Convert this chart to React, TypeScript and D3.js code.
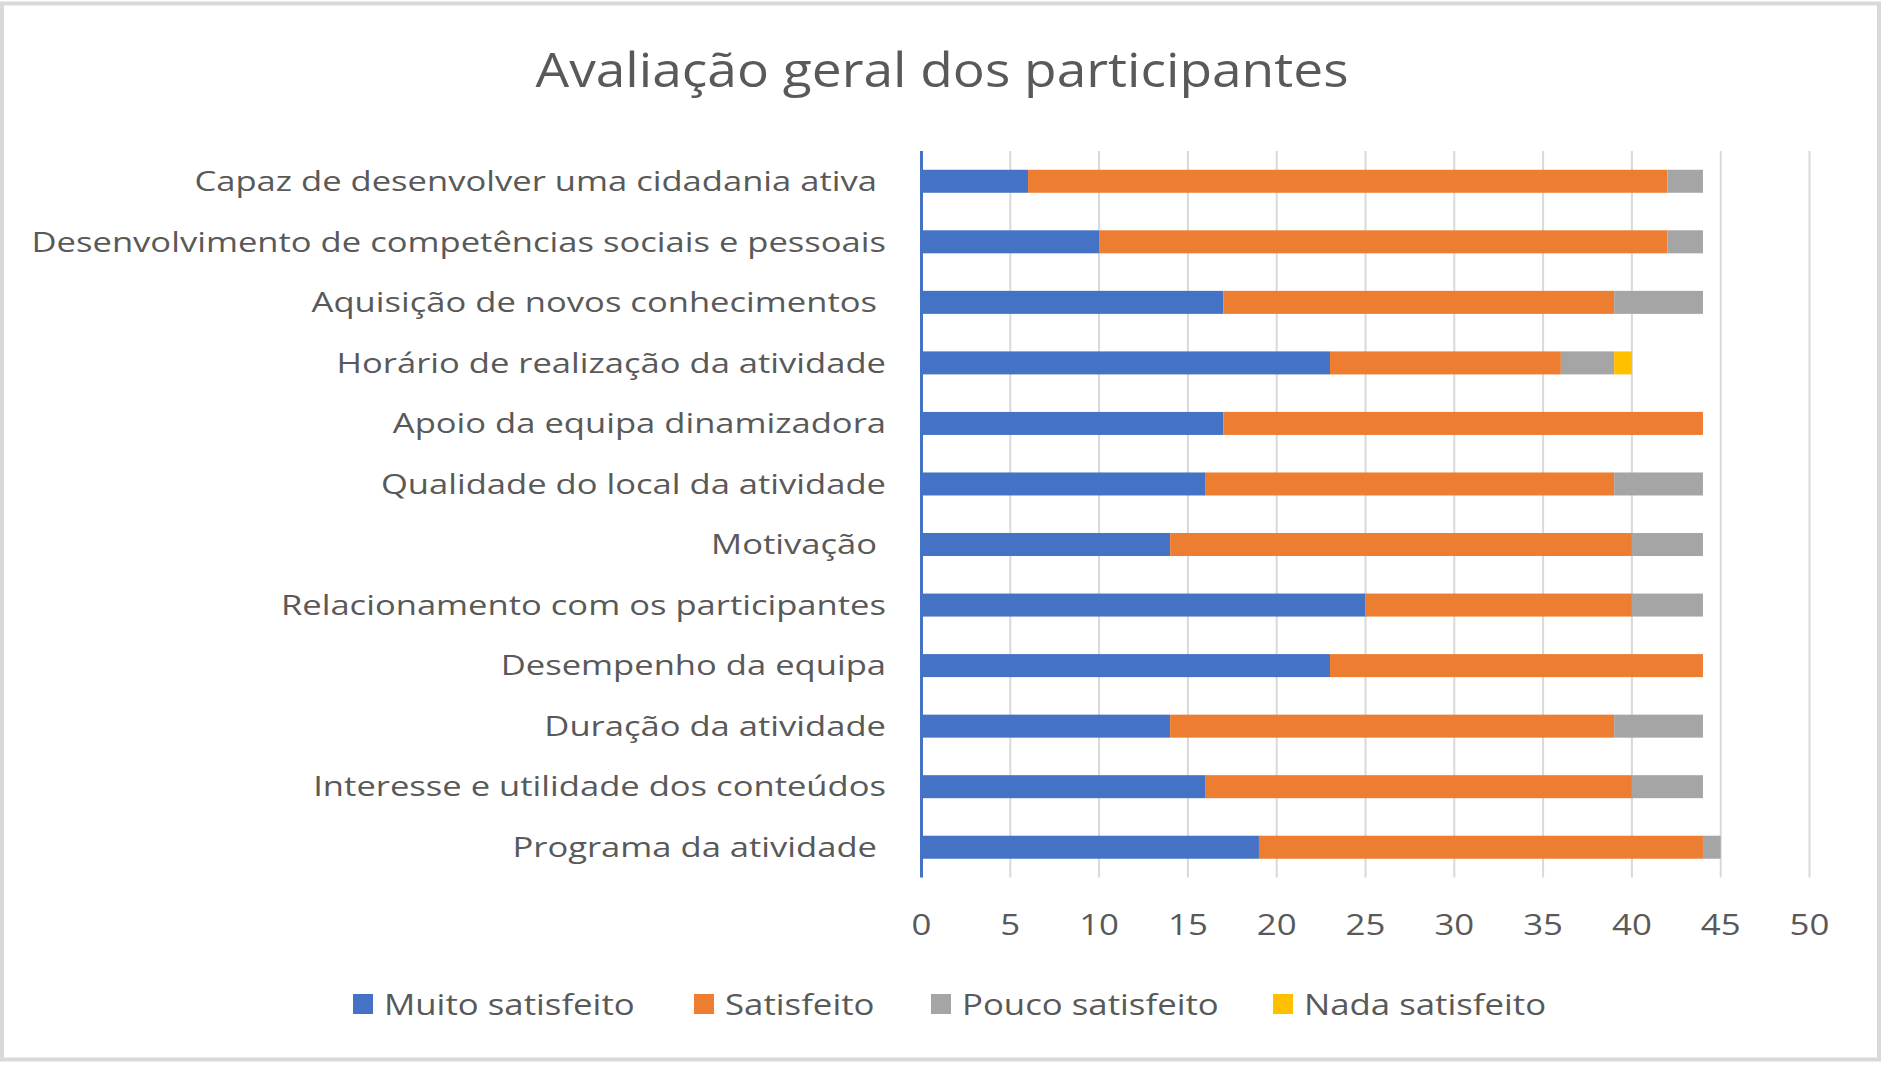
import React from "react";
import * as d3 from "d3";

const categories = [
  "Capaz de desenvolver uma cidadania ativa ",
  "Desenvolvimento de competências sociais e pessoais",
  "Aquisição de novos conhecimentos ",
  "Horário de realização da atividade",
  "Apoio da equipa dinamizadora",
  "Qualidade do local da atividade",
  "Motivação ",
  "Relacionamento com os participantes",
  "Desempenho da equipa",
  "Duração da atividade",
  "Interesse e utilidade dos conteúdos",
  "Programa da atividade ",
];

const seriesNames = ["Muito satisfeito", "Satisfeito", "Pouco satisfeito", "Nada satisfeito"];
const muitoSatisfeito = [6, 10, 17, 23, 17, 16, 14, 25, 23, 14, 16, 19];
const satisfeito = [36, 32, 22, 13, 27, 23, 26, 15, 21, 25, 24, 25];
const poucoSatisfeito = [2, 2, 5, 3, 0, 5, 4, 4, 0, 5, 4, 1];
const nadaSatisfeito = [0, 0, 0, 1, 0, 0, 0, 0, 0, 0, 0, 0];
const xTicks = [0, 5, 10, 15, 20, 25, 30, 35, 40, 45, 50];
const colors = ["#4472C4", "#ED7D31", "#A5A5A5", "#FFC000"];
const title = "Avaliação geral dos participantes";

const W = 1882;
const H = 1065;
const FONT = "'Open Sans', 'Noto Sans', sans-serif";
const TEXT = "#595959";

export default function App() {
  const rows = categories.map((c, i) => ({
    cat: c,
    [seriesNames[0]]: muitoSatisfeito[i],
    [seriesNames[1]]: satisfeito[i],
    [seriesNames[2]]: poucoSatisfeito[i],
    [seriesNames[3]]: nadaSatisfeito[i],
  }));
  const stacked = d3.stack<any>().keys(seriesNames)(rows);

  const x = d3.scaleLinear().domain([0, 50]).range([921.5, 1809.5]);
  const y = d3
    .scaleBand<string>()
    .domain(categories)
    .range([151, 877.5])
    .paddingInner(0.62)
    .paddingOuter(0.31);

  const legendSquares = [353, 694, 931, 1273];

  return (
    <div style={{ position: "absolute", left: 0, top: 0 }}>
      <svg width={W} height={H} style={{ display: "block", background: "#fff" }}>
        <rect x={0} y={0} width={W} height={H} fill="#fff" />
        <rect x={2} y={3.5} width={1877} height={1056} fill="none" stroke="#d9d9d9" strokeWidth={4} />
        <text
          transform="translate(942,87) scale(1.11,1)"
          textAnchor="middle"
          fontFamily={FONT}
          fontSize={48}
          fill={TEXT}
        >
          {title}
        </text>
        {xTicks.map((t) => (
          <line
            key={"g" + t}
            x1={x(t)}
            x2={x(t)}
            y1={151}
            y2={877.5}
            stroke="#d9d9d9"
            strokeWidth={2}
          />
        ))}
        {stacked.map((s, si) => (
          <g key={s.key} fill={colors[si]}>
            {s.map((d, i) =>
              d[1] - d[0] > 0 ? (
                <rect
                  key={i}
                  x={x(d[0])}
                  y={y(categories[i])}
                  width={x(d[1]) - x(d[0])}
                  height={y.bandwidth()}
                />
              ) : null
            )}
          </g>
        ))}
        <line x1={x(0)} x2={x(0)} y1={151} y2={877.5} stroke="#4472C4" strokeWidth={3} />
        {categories.map((c) => (
          <text
            key={c}
            transform={`translate(886,${(y(c) as number) + y.bandwidth() / 2}) scale(1.235,1)`}
            dy="0.35em"
            textAnchor="end"
            fontFamily={FONT}
            fontSize={28}
            fill={TEXT}
            style={{ whiteSpace: "pre" }}
          >
            {c}
          </text>
        ))}
        {xTicks.map((t) => (
          <text
            key={"t" + t}
            transform={`translate(${x(t)},935) scale(1.16,1)`}
            textAnchor="middle"
            fontFamily={FONT}
            fontSize={30}
            fill={TEXT}
          >
            {t}
          </text>
        ))}
        {seriesNames.map((n, i) => (
          <g key={n}>
            <rect x={legendSquares[i]} y={994} width={20} height={20} fill={colors[i]} />
            <text
              transform={`translate(${legendSquares[i] + 31},1004) scale(1.16,1)`}
              dy="0.35em"
              fontFamily={FONT}
              fontSize={30}
              fill={TEXT}
            >
              {n}
            </text>
          </g>
        ))}
      </svg>
    </div>
  );
}
